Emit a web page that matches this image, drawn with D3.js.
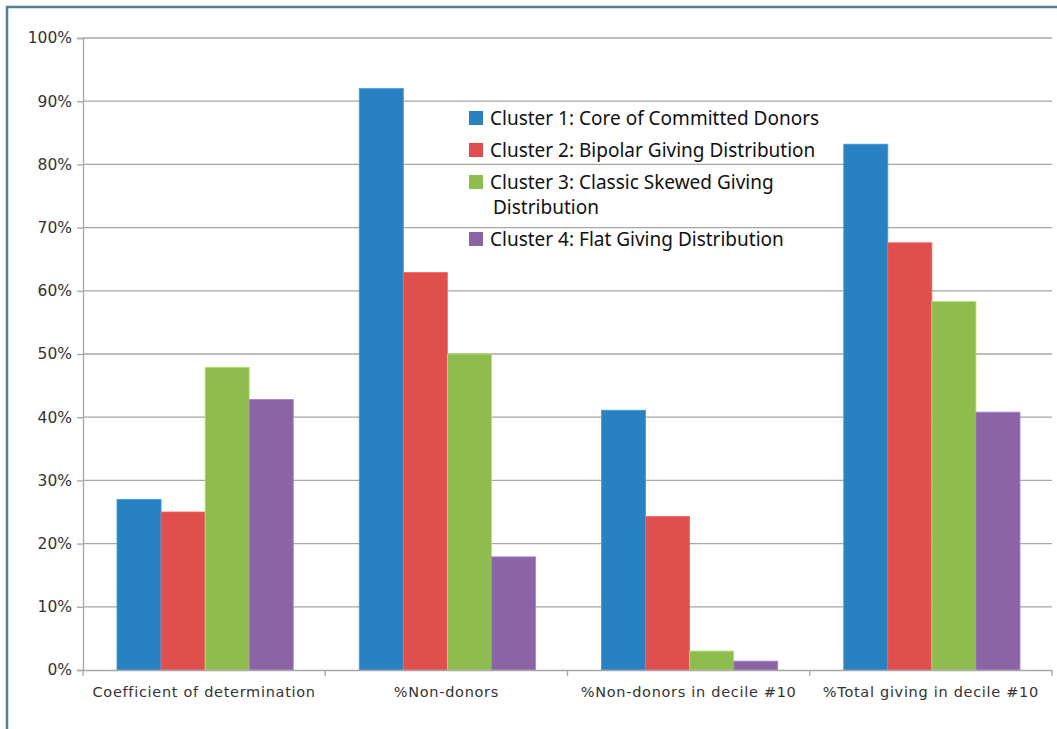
<!DOCTYPE html>
<html>
<head>
<meta charset="utf-8">
<script src="https://cdn.jsdelivr.net/npm/d3@7"></script>
<style>
  body { margin: 0; background: #fff; }
  svg { display: block; }
</style>
</head>
<body>
<div id="chart"></div>
<script>
// Data
const categories = [
  "Coefficient of determination",
  "%Non-donors",
  "%Non-donors in decile #10",
  "%Total giving in decile #10"
];
const seriesNames = [
  "Cluster 1: Core of Committed Donors",
  "Cluster 2: Bipolar Giving Distribution",
  "Cluster 3: Classic Skewed Giving Distribution",
  "Cluster 4: Flat Giving Distribution"
];
const cluster1 = [27, 92, 41.1, 83.2];
const cluster2 = [25, 62.9, 24.3, 67.6];
const cluster3 = [47.9, 50, 3, 58.3];
const cluster4 = [42.8, 17.9, 1.4, 40.8];
const yTicks = [0, 10, 20, 30, 40, 50, 60, 70, 80, 90, 100];

const colors = ["#2a81c1", "#de4f4d", "#8fbc4f", "#8b64a6"];
const series = [cluster1, cluster2, cluster3, cluster4];

const W = 1057, H = 729;
const svg = d3.select("#chart").append("svg").attr("width", W).attr("height", H);

// frame (top and left border)
svg.append("line").attr("x1", 6).attr("x2", W).attr("y1", 7).attr("y2", 7)
  .attr("stroke", "#4f8199").attr("stroke-width", 2.5);
svg.append("line").attr("x1", 7).attr("x2", 7).attr("y1", 6).attr("y2", H)
  .attr("stroke", "#4f8199").attr("stroke-width", 2.5);

const m = { left: 83, right: 1052, top: 38, bottom: 670 };

const x0 = d3.scaleBand().domain(categories).range([m.left, m.right]).paddingInner(0).paddingOuter(0);
const x1 = d3.scaleBand().domain(d3.range(4)).range([34, x0.bandwidth() - 32]);
const y = d3.scaleLinear().domain([0, 100]).range([m.bottom, m.top]);

// gridlines
svg.append("g").selectAll("line").data(yTicks.filter(d => d > 0)).join("line")
  .attr("x1", m.left).attr("x2", m.right)
  .attr("y1", d => y(d)).attr("y2", d => y(d))
  .attr("stroke", "#a6a6a6").attr("stroke-width", 1.3);

// y axis
const yAxis = svg.append("g").attr("transform", `translate(${m.left},0)`)
  .call(d3.axisLeft(y).tickValues(yTicks).tickFormat(d => d + "%").tickSize(6).tickPadding(5));
yAxis.select(".domain").attr("stroke", "#a6a6a6").attr("stroke-width", 1.3);
yAxis.selectAll(".tick line").attr("stroke", "#a6a6a6").attr("stroke-width", 1.3);
yAxis.selectAll("text").attr("font-family", "DejaVu Sans").attr("font-size", 15.5).attr("fill", "#333");

// bars
const groups = svg.append("g").selectAll("g").data(categories).join("g")
  .attr("transform", d => `translate(${x0(d)},0)`);
groups.selectAll("rect")
  .data((d, i) => series.map((s, k) => ({ k, v: s[i] })))
  .join("rect")
  .attr("x", d => x1(d.k))
  .attr("width", x1.bandwidth())
  .attr("y", d => y(d.v))
  .attr("height", d => y(0) - y(d.v))
  .attr("fill", d => colors[d.k])
  .attr("stroke", d => d3.color(colors[d.k]).brighter(0.6))
  .attr("stroke-width", 0.8);

// x axis
const xAxis = svg.append("g").attr("transform", `translate(0,${m.bottom})`)
  .call(d3.axisBottom(x0).tickSize(0).tickPadding(17));
xAxis.select(".domain").attr("stroke", "#a6a6a6").attr("stroke-width", 1.3);
xAxis.selectAll("text").attr("font-family", "DejaVu Sans").attr("font-size", 14.5)
  .attr("fill", "#333").attr("letter-spacing", 0.7);
svg.append("g").selectAll("line")
  .data(categories.map(c => x0(c)).concat([m.right]))
  .join("line")
  .attr("x1", d => d).attr("x2", d => d)
  .attr("y1", m.bottom).attr("y2", m.bottom + 6)
  .attr("stroke", "#a6a6a6").attr("stroke-width", 1.3);

// legend
const legendRows = [
  { lines: [seriesNames[0]], y: 118 },
  { lines: [seriesNames[1]], y: 150 },
  { lines: ["Cluster 3: Classic Skewed Giving", "Distribution"], y: 182 },
  { lines: [seriesNames[3]], y: 239 }
];
const legend = svg.append("g");
legendRows.forEach((r, i) => {
  legend.append("rect").attr("x", 469).attr("y", r.y - 7).attr("width", 14).attr("height", 14)
    .attr("fill", colors[i]);
  r.lines.forEach((t, j) => {
    legend.append("text").attr("x", j === 0 ? 490 : 493).attr("y", r.y + j * 25)
      .attr("dy", "0.36em")
      .attr("font-family", "Noto Sans").attr("font-size", 19).attr("fill", "#111")
      .text(t);
  });
});
</script>
</body>
</html>
